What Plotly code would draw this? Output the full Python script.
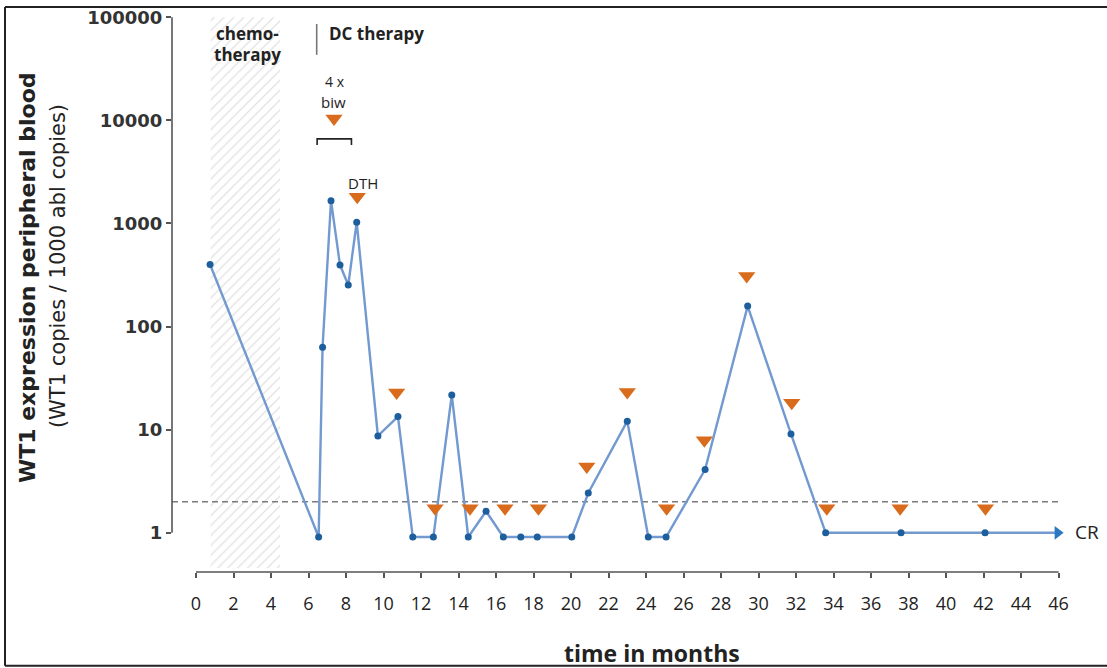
import plotly.graph_objects as go
import math

# ---------------- data ----------------
months = [0.75, 6.54, 6.75, 7.2, 7.68, 8.12, 8.57, 9.7, 10.77, 11.56, 12.66, 13.64,
          14.52, 15.47, 16.39, 17.32, 18.2, 20.04, 20.92, 23.0, 24.12, 25.07,
          27.15, 29.42, 31.73, 33.58, 37.6, 42.08]
wt1_values = [400, 0.91, 63, 1660, 395, 253, 1030, 8.7, 13.4, 0.91, 0.91, 21.7,
              0.91, 1.62, 0.91, 0.91, 0.91, 0.91, 2.43, 12.1, 0.91, 0.91,
              4.1, 158, 9.1, 1.0, 1.0, 1.0]

dc_months = [7.36, 8.6, 10.7, 12.75, 14.61, 16.48, 18.26, 20.84, 23.0, 25.1,
             27.11, 29.37, 31.77, 33.64, 37.55, 42.1]
dc_values = [10400, 1820, 23, 1.73, 1.73, 1.73, 1.73, 4.4, 23.2, 1.73,
             7.9, 310, 18.3, 1.73, 1.73, 1.73]

threshold = 2
chemo_start, chemo_end = 0.78, 4.48
cr_end = 45.95
bracket_months = [6.46, 8.29]

x_ticks = list(range(0, 47, 2))
y_ticks = [1, 10, 100, 1000, 10000, 100000]
y_tick_labels = ["1", "10", "100", "1000", "10000", "100000"]

# ---------------- layout geometry ----------------
W, H = 1107, 668
L, R, T, B = 172, 7, 8, 96
PW, PH = W - L - R, H - T - B
XR = [-1.28, 48.21]
YR = [-0.38, 5.07]


def px(xp):
    return (xp - L) / PW


def py(yp):
    return (H - B - yp) / PH


def yv(v):
    return (math.log10(v) - YR[0]) / (YR[1] - YR[0])


LINE_BLUE = "#7299d0"
DOT_BLUE = "#1d5e9c"
ORANGE = "#d96c1c"
AX = "#555555"
FONT = "Open Sans"

fig = go.Figure()

# chemotherapy hatched region
fig.add_trace(go.Scatter(
    x=[chemo_start, chemo_end, chemo_end, chemo_start, chemo_start],
    y=[10 ** -0.34, 10 ** -0.34, 1e5, 1e5, 10 ** -0.34],
    fill="toself", mode="lines", line=dict(width=0),
    fillcolor="rgba(0,0,0,0)",
    fillpattern=dict(shape="/", fgcolor="#c4c4c4", bgcolor="white", size=7, solidity=0.18),
    hoverinfo="skip", showlegend=False))

# threshold dashed line
fig.add_trace(go.Scatter(
    x=[XR[0], 46], y=[threshold, threshold], mode="lines",
    line=dict(color="#7a7a7a", width=1.6, dash="6px,4px"),
    hoverinfo="skip", showlegend=False))

# bracket for 4x biw
fig.add_trace(go.Scatter(
    x=[bracket_months[0], bracket_months[0], bracket_months[1], bracket_months[1]],
    y=[10 ** 3.762, 10 ** 3.82, 10 ** 3.82, 10 ** 3.762], mode="lines",
    line=dict(color="#222222", width=1.6),
    hoverinfo="skip", showlegend=False))

# CR arrow line
fig.add_trace(go.Scatter(
    x=[months[-1], cr_end], y=[wt1_values[-1], wt1_values[-1]], mode="lines",
    line=dict(color=LINE_BLUE, width=2.4), hoverinfo="skip", showlegend=False))
fig.add_trace(go.Scatter(
    x=[cr_end], y=[wt1_values[-1]], mode="markers",
    marker=dict(symbol="triangle-right", size=12, color="#2a78c2"),
    hoverinfo="skip", showlegend=False))

# WT1 data
fig.add_trace(go.Scatter(
    x=months, y=wt1_values, mode="lines+markers",
    line=dict(color=LINE_BLUE, width=2.4),
    marker=dict(color=DOT_BLUE, size=7),
    showlegend=False))

# DC vaccinations
fig.add_trace(go.Scatter(
    x=dc_months, y=dc_values, mode="markers",
    marker=dict(symbol="triangle-down", size=15, color=ORANGE),
    showlegend=False))

shapes = [
    # y axis line
    dict(type="line", xref="paper", yref="paper", x0=0, x1=0, y0=yv(1), y1=yv(1e5),
         line=dict(color=AX, width=1.6)),
    # x axis line
    dict(type="line", xref="x", yref="paper", x0=0, x1=46, y0=0, y1=0,
         line=dict(color=AX, width=1.6)),
    # DC therapy bar
    dict(type="line", xref="paper", yref="paper", x0=px(316.7), x1=px(316.7),
         y0=py(22), y1=py(53), line=dict(color="#777777", width=1.6)),
    # outer frame
    dict(type="line", xref="paper", yref="paper", x0=px(5), x1=px(5), y0=py(5), y1=py(666),
         line=dict(color="#222222", width=2)),
    dict(type="line", xref="paper", yref="paper", x0=px(5), x1=px(1107), y0=py(5), y1=py(5),
         line=dict(color="#222222", width=2)),
    dict(type="line", xref="paper", yref="paper", x0=px(5), x1=px(1107), y0=py(666), y1=py(666),
         line=dict(color="#222222", width=2)),
]


def ann(text, x, y, size, bold=False, xanchor="center", yanchor="middle", angle=0,
        color="#222222", family=FONT):
    return dict(text=text, x=px(x), y=py(y), xref="paper", yref="paper",
                showarrow=False, xanchor=xanchor, yanchor=yanchor, textangle=angle,
                font=dict(family=family, size=size, color=color,
                          weight="bold" if bold else "normal"))


annotations = [
    ann("chemo-", 247, 32, 17, bold=True),
    ann("therapy", 247, 53, 17, bold=True),
    ann("DC therapy", 327, 32, 17, bold=True, xanchor="left"),
    ann("4 x", 335, 80, 14),
    ann("biw", 333, 100, 15),
    ann("DTH", 363, 182, 15),
    ann("CR", 1073, 532, 19, xanchor="left"),
    ann("time in months", 652, 653, 23, bold=True),
    ann("WT1 expression peripheral blood", 27, 277, 22, bold=True, angle=-90,
        family="DejaVu Sans"),
    ann("(WT1 copies / 1000 abl copies)", 58, 265, 21, angle=-90, family="DejaVu Sans"),
]

fig.update_layout(
    width=W, height=H,
    margin=dict(l=L, r=R, t=T, b=B),
    paper_bgcolor="white", plot_bgcolor="white",
    shapes=shapes, annotations=annotations,
    xaxis=dict(range=XR, tickmode="array", tickvals=x_ticks,
               ticktext=[str(t) for t in x_ticks],
               showgrid=False, zeroline=False, showline=False,
               ticks="outside", ticklen=5, tickwidth=1.5, tickcolor=AX,
               ticklabelstandoff=10,
               tickfont=dict(family=FONT, size=18, color="#222222")),
    yaxis=dict(type="log", range=YR, tickmode="array", tickvals=y_ticks,
               ticktext=y_tick_labels,
               showgrid=False, zeroline=False, showline=False,
               ticks="outside", ticklen=5, tickwidth=1.5, tickcolor=AX,
               tickfont=dict(family="DejaVu Sans", size=18, color="#333333", weight="bold")),
)

fig.write_html("out.html", config={"displayModeBar": False},
               post_script="document.body.style.margin='0';document.body.style.overflow='hidden';")
